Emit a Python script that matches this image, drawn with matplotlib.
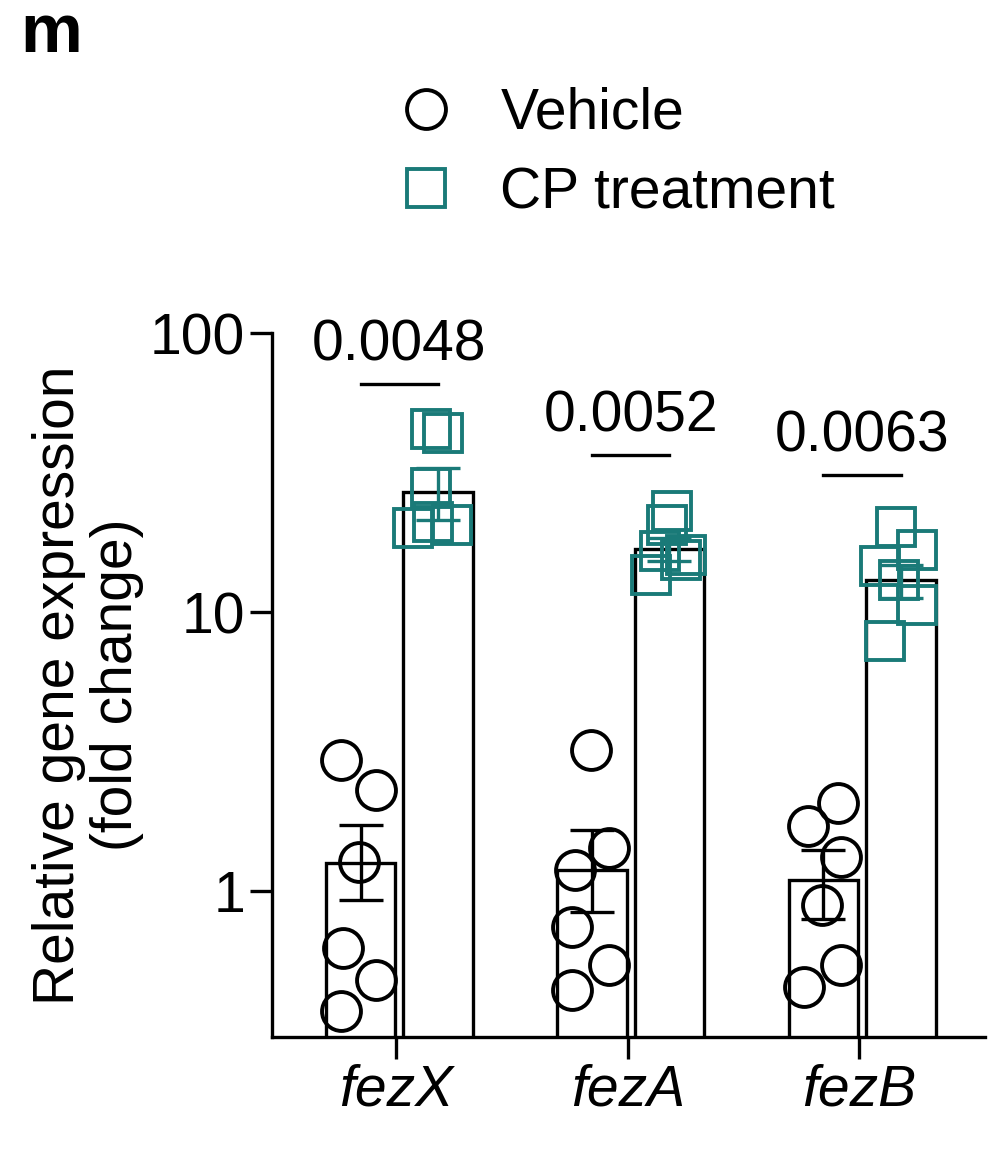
import matplotlib
matplotlib.use("Agg")
import matplotlib.pyplot as plt
import numpy as np
from matplotlib.lines import Line2D

plt.rcParams['font.family'] = ['Liberation Sans', 'DejaVu Sans']

genes = ['fezX', 'fezA', 'fezB']
veh_mean = [1.26, 1.19, 1.09]
veh_err_hi = [1.72, 1.65, 1.40]
veh_err_lo = [0.93, 0.84, 0.79]
veh_pts = [[2.95, 2.3, 1.27, 0.625, 0.48, 0.37],
           [3.2, 1.43, 1.19, 0.74, 0.54, 0.44],
           [2.07, 1.71, 1.32, 0.89, 0.54, 0.45]]
cp_mean = [26.9, 16.9, 13.0]
cp_err_hi = [33.0, 18.5, 14.8]
cp_err_lo = [21.5, 15.2, 11.2]
cp_pts = [[45.5, 44, 28, 20, 20.5, 21],
          [23, 20.5, 13.6, 16, 16.6, 15.4],
          [20.2, 16.7, 14.7, 13, 10.6, 7.9]]
pvals = ['0.0048', '0.0052', '0.0063']
p_line_y = [66, 36.5, 31]

veh_jit = [[-0.24, -0.09, -0.16, -0.23, -0.09, -0.24],
           [-0.16, -0.08, -0.23, -0.24, -0.08, -0.24],
           [-0.09, -0.22, -0.08, -0.16, -0.08, -0.24]]
cp_jit = [[0.15, 0.2, 0.15, 0.07, 0.24, 0.16],
          [0.19, 0.17, 0.1, 0.25, 0.14, 0.23],
          [0.16, 0.25, 0.09, 0.17, 0.25, 0.11]]

teal = '#1a7a78'
fs = 41
fig = plt.figure(figsize=(9.94, 11.62), dpi=100)
ax = fig.add_axes([0.274, 0.108, 0.717, 0.605])
x = np.arange(3)
w = 0.30
xv = x - 0.155
xc = x + 0.18
ax.bar(xv, veh_mean, width=w, facecolor='white', edgecolor='black', linewidth=2.4, zorder=1)
ax.bar(xc, cp_mean, width=w, facecolor='white', edgecolor='black', linewidth=2.4, zorder=1)
for i in range(3):
    ax.errorbar(xv[i], veh_mean[i], yerr=[[veh_mean[i]-veh_err_lo[i]], [veh_err_hi[i]-veh_mean[i]]],
                color='black', capsize=16, elinewidth=2.4, capthick=2.4, zorder=3)
    ax.errorbar(xc[i], cp_mean[i], yerr=[[cp_mean[i]-cp_err_lo[i]], [cp_err_hi[i]-cp_mean[i]]],
                color=teal, capsize=16, elinewidth=2.4, capthick=2.4, zorder=3)
    ax.plot(x[i] + np.array(veh_jit[i]), veh_pts[i], 'o', ms=28, mfc='none', mec='black', mew=2.8, zorder=4)
    ax.plot(x[i] + np.array(cp_jit[i]), cp_pts[i], 's', ms=27, mfc='none', mec=teal, mew=2.8, zorder=4)
    ax.plot([xv[i], xc[i]], [p_line_y[i]]*2, color='black', lw=2.4)
    ax.text((xv[i]+xc[i])/2, p_line_y[i]*1.1, pvals[i], ha='center', va='bottom', fontsize=fs)

ax.set_yscale('log')
ax.set_ylim(0.3, 100)
ax.set_xlim(-0.536, 2.544)
ax.set_yticks([1, 10, 100])
ax.set_yticklabels(['1', '10', '100'])
ax.yaxis.set_minor_locator(matplotlib.ticker.NullLocator())
ax.set_xticks(x)
ax.set_xticklabels(genes, fontstyle='italic')
ax.tick_params(labelsize=fs, width=2.4, length=16, direction='out')
for s in ['top', 'right']:
    ax.spines[s].set_visible(False)
for s in ['left', 'bottom']:
    ax.spines[s].set_linewidth(2.4)
ax.set_ylabel('Relative gene expression\n(fold change)', fontsize=fs, linespacing=1.1)

fig.text(0.02, 0.998, 'm', fontsize=50, fontweight='bold', va='top')
handles = [Line2D([], [], marker='o', ls='none', ms=28, mfc='none', mec='black', mew=2.8),
           Line2D([], [], marker='s', ls='none', ms=27, mfc='none', mec=teal, mew=2.8)]
fig.legend(handles, ['Vehicle', 'CP treatment'], loc='center left', bbox_to_anchor=(0.32, 0.868),
           frameon=False, fontsize=fs, handletextpad=0.3, labelspacing=0.45)
fig.savefig('out.png', dpi=100)
